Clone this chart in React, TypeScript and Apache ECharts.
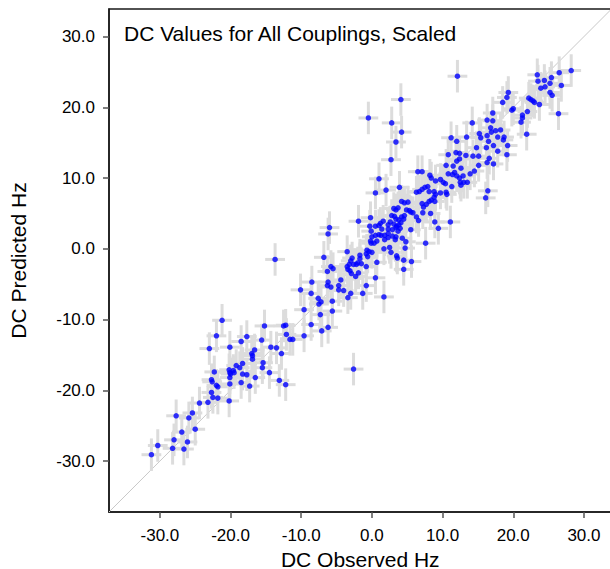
import React, { useEffect, useRef } from "react";
import * as echarts from "echarts";

const TITLE = "DC Values for All Couplings, Scaled";
const X_NAME = "DC Observed Hz";
const Y_NAME = "DC Predicted Hz";
const AXIS_MIN = -37.2;
const AXIS_MAX = 33.9;
const TICKS = [-30, -20, -10, 0, 10, 20, 30];
const X_ERR = 1.4;
const Y_ERR = 2.3;

const observed = [
  -31.2, -30.3, -28.2, -28.0, -27.7, -26.9, -26.6, -26.1, -25.9, -25.4,
  -25.0, -24.4, -23.2, -23.0, -22.7, -22.7, -22.6, -22.5, -22.3, -22.0,
  -22.0, -21.8, -21.8, -21.2, -20.2, -20.1, -20.1, -20.2, -20.1, -20.1,
  -20.0, -19.6, -19.5, -19.2, -18.7, -18.5, -18.5, -18.3, -18.3, -17.7,
  -17.7, -17.3, -17.0, -16.9, -16.9, -16.6, -16.5, -15.6, -15.5, -15.4,
  -15.2, -14.5, -14.3, -13.5, -13.1, -12.8, -12.5, -12.2, -12.1, -12.2,
  -11.6, -11.2, -10.1, -9.6, -9.6, -13.7, -8.6, -8.6, -7.6, -7.5,
  -7.2, -7.3, -7.1, -6.3, -6.2, -5.8, -5.6, -5.6, -4.7, -4.7,
  -4.0, -3.4, -3.0, -1.3, -0.8, 1.7, -2.6,
  -6.0, -6.2, -1.9, -0.3, 0.5, -0.1, 0.0, 0.5, 1.0, -0.2,
  -0.1, 0.3, 0.7, -6.8, -3.5, -2.8, -1.7, -0.7, -0.8, -0.4,
  0.0, -0.6, -1.7, 0.7, -3.2, -2.6, -2.2, -2.0, -3.5, -3.4,
  -3.1, -0.8, -2.9, -2.3, -1.9, 0.5, -6.3, -5.8, -5.5, -8.5,
  -6.2, -4.4, -1.5, -3.0, -0.2,
  2.7, 1.0, 0.5, 2.0, 3.9, 4.2, 4.6, 5.1, 3.4, 3.1,
  3.7, 3.2, 2.8, 4.9, 5.3, 5.5, 5.8, 6.3, 6.6, 3.4,
  3.8, 4.2, 4.6, 4.5, 4.1, 3.8, 3.5, 3.1, 2.6, 2.3,
  1.6, 1.2, 1.0, 1.4, 1.3, 1.8, 1.8, 2.3, 2.3, 2.9,
  3.4, 2.3, 2.9, 3.4, 4.0, 3.7, 4.3, 5.5, 1.7, 2.5,
  2.7, 3.5, 3.6, 3.3, 4.5, 5.6, 4.8, 4.7, 7.6, 4.5,
  8.9, 9.4, 11.1, 8.3, 7.2, 7.3, 7.7, 8.1, 8.4, 8.8,
  9.7, 10.5, 10.6, 8.8, 8.1, 7.5, 7.9, 7.1, 6.7, 6.3,
  7.1, 8.2, 8.4, 9.0, 9.7, 10.1, 10.4, 6.5, 7.1, 10.5,
  10.8, 11.4, 11.7, 12.0, 12.4, 12.9, 12.5, 13.0, 13.5, 12.6,
  11.3, 9.0, 8.9, 16.4, 16.1,
  12.1, 4.1, -0.5, 2.8, 4.2, 3.4, 28.2, 26.5, 23.4, 25.4,
  24.4, 23.5, 25.2, 26.8, 24.5, 23.9, 25.2, 25.5, 19.3, 19.1,
  18.5, 22.2, 22.5, 22.8, 23.0, 23.7, 20.0, 19.8, 22.0, 26.4,
  21.3, 21.3, 21.1, 21.9, 17.1, 16.3, 17.1, 14.2, 15.2, 16.8,
  17.5, 18.2, 16.9, 16.3, 11.2, 13.4, 15.4, 17.8, 18.7, 12.0,
  16.5, 18.6, 17.2, 19.2, 14.8, 16.2, 17.8, 19.1, 11.9, 12.4,
  10.8, 15.1, 14.3, 12.4, 12.0, 16.6, 16.3, 17.2, 11.5, 12.6,
  15.1, 14.5, 13.9, 13.3,
];

const predicted = [
  -29.1, -27.8, -28.2, -27.0, -23.6, -25.9, -28.3, -27.3, -23.9, -23.2,
  -25.5, -21.8, -21.7, -14.1, -20.3, -18.5, -18.8, -21.0, -17.4, -12.3,
  -19.3, -21.1, -19.5, -10.1, -21.5, -13.9, -19.1, -17.1, -17.5, -18.2,
  -17.7, -17.2, -17.5, -16.5, -16.8, -13.1, -18.9, -16.2, -17.7, -12.4,
  -17.8, -19.4, -14.8, -15.1, -15.6, -14.3, -18.2, -12.9, -16.8, -16.1,
  -10.9, -17.5, -13.9, -14.0, -18.6, -14.8, -10.9, -10.8, -12.1, -19.2,
  -12.8, -12.8, -5.8, -8.6, -12.3, -1.5, -6.3, -10.7, -7.0, -7.8,
  -7.5, -9.3, -11.6, -5.2, -11.1, -5.4, -7.4, -8.8, -5.2, -5.8,
  -5.9, -6.9, -6.3, -6.3, -5.2, -6.8, -17.0,
  3.0, 2.1, 3.9, 3.2, 3.2, 2.5, 1.7, 1.9, 2.0, 1.1,
  0.8, 0.8, 1.1, -1.2, -0.4, -1.3, -0.9, -0.2, -0.7, -0.4,
  -0.5, -1.1, -1.4, -1.9, -2.2, -2.2, -2.2, -2.0, -2.5, -2.9,
  -3.1, -2.5, -3.5, -3.9, -3.4, -4.1, -3.2, -2.5, -2.8, -4.7,
  -4.7, -4.4, -2.1, -1.7, 4.4,
  12.6, 9.9, 7.9, 8.3, 8.7, 6.7, 6.5, 6.6, 5.5, 5.7,
  5.8, 4.6, 4.7, 5.5, 5.4, 5.2, 5.1, 4.5, 4.0, 4.2,
  4.1, 4.5, 4.7, 4.2, 3.7, 3.4, 3.2, 3.5, 3.8, 3.4,
  3.9, 3.6, 3.3, 2.8, 1.9, 1.9, 1.3, 2.2, 1.6, 1.8,
  1.7, 2.8, 2.7, 3.0, 2.9, 2.5, 1.5, 2.7, 0.0, 0.2,
  -0.5, -1.0, -1.3, 1.3, -1.6, -1.8, 1.0, 0.1, 0.8, -2.9,
  3.8, 2.9, 3.8, 5.0, 5.1, 5.9, 6.3, 6.7, 6.9, 7.3,
  7.9, 8.0, 7.7, 8.1, 8.1, 8.7, 8.8, 8.4, 8.1, 8.0,
  6.4, 10.4, 10.0, 9.6, 9.8, 9.4, 9.2, 10.9, 10.9, 11.8,
  10.6, 10.5, 10.8, 10.3, 10.0, 10.3, 9.4, 9.4, 9.4, 9.0,
  8.8, 7.7, 6.7, 8.2, 7.2,
  24.4, 21.1, 18.5, 17.8, 16.5, 15.1, 25.2, 24.9, 24.6, 24.2,
  23.8, 23.7, 23.4, 23.1, 22.9, 22.7, 22.1, 21.7, 22.1, 21.4,
  20.7, 21.3, 21.1, 20.9, 20.7, 20.4, 19.8, 19.6, 19.4, 19.1,
  18.9, 18.5, 17.9, 16.2, 19.2, 18.2, 18.1, 17.8, 16.3, 17.1,
  16.7, 16.8, 16.5, 16.0, 15.7, 15.8, 15.7, 15.8, 15.8, 15.2,
  15.2, 15.4, 14.6, 14.6, 14.3, 14.3, 13.8, 13.3, 13.6, 13.5,
  13.3, 13.1, 13.1, 12.7, 12.4, 12.8, 12.2, 12.0, 11.7, 11.4,
  11.8, 11.0, 10.6, 13.2,
];

const FONT = "'Liberation Sans', Arial, Helvetica, sans-serif";

export default function App() {
  const ref = useRef<HTMLDivElement>(null);

  useEffect(() => {
    if (!ref.current) return;
    const chart = echarts.init(ref.current, undefined, { renderer: "svg" });
    const n = Math.min(observed.length, predicted.length);
    const points: number[][] = [];
    for (let i = 0; i < n; i++) points.push([observed[i], predicted[i]]);

    const axisCommon = {
      type: "value" as const,
      min: AXIS_MIN,
      max: AXIS_MAX,
      nameLocation: "middle" as const,
      nameTextStyle: { fontFamily: FONT, fontSize: 21, lineHeight: 21, color: "#000" },
      axisLine: {
        show: true,
        onZero: false,
        lineStyle: { color: "#1a1a1a", width: 1.5 },
      },
      axisTick: {
        show: true,
        inside: false,
        length: 6,
        customValues: TICKS,
        lineStyle: { color: "#555", width: 1.5 },
      },
      axisLabel: {
        customValues: TICKS,
        margin: 14,
        fontFamily: FONT,
        fontSize: 17,
        color: "#000",
        formatter: (v: number) => v.toFixed(1),
      },
      splitLine: { show: false },
    };

    chart.setOption({
      animation: false,
      backgroundColor: "#ffffff",
      title: {
        text: TITLE,
        left: 124,
        top: 23,
        padding: 0,
        textStyle: {
          fontFamily: FONT,
          fontSize: 21,
          fontWeight: "normal",
          color: "#000",
        },
      },
      grid: {
        left: 109,
        top: 9,
        width: 502.5,
        height: 503,
        containLabel: false,
        outerBoundsMode: "none",
        show: true,
        borderColor: "#1a1a1a",
        borderWidth: 1.5,
        backgroundColor: "transparent",
      },
      xAxis: {
        ...axisCommon,
        name: X_NAME,
        nameGap: 31,
        axisLabel: { ...axisCommon.axisLabel, margin: 15 },
      },
      yAxis: { ...axisCommon, name: Y_NAME, nameGap: 80 },
      series: [
        {
          type: "line",
          data: [
            [AXIS_MIN, AXIS_MIN],
            [AXIS_MAX, AXIS_MAX],
          ],
          symbol: "none",
          silent: true,
          z: 1,
          lineStyle: { color: "#c8c8c8", width: 1 },
        },
        {
          type: "custom",
          z: 2,
          silent: true,
          data: points,
          encode: { x: 0, y: 1 },
          renderItem: (_params: any, api: any) => {
            const x = api.value(0);
            const y = api.value(1);
            const c = api.coord([x, y]);
            const l = api.coord([x - X_ERR, y]);
            const r = api.coord([x + X_ERR, y]);
            const t = api.coord([x, y + Y_ERR]);
            const b = api.coord([x, y - Y_ERR]);
            const style = { stroke: "#dcdcdc", lineWidth: 3 };
            return {
              type: "group",
              children: [
                {
                  type: "line",
                  shape: { x1: l[0], y1: c[1], x2: r[0], y2: c[1] },
                  style,
                },
                {
                  type: "line",
                  shape: { x1: c[0], y1: t[1], x2: c[0], y2: b[1] },
                  style,
                },
              ],
            };
          },
        },
        {
          type: "scatter",
          z: 3,
          data: points,
          symbolSize: 5.5,
          itemStyle: { color: "#0000ff" },
        },
      ],
    });

    return () => chart.dispose();
  }, []);

  return (
    <div
      ref={ref}
      style={{ position: "absolute", left: 0, top: 0, width: 610, height: 569 }}
    />
  );
}
